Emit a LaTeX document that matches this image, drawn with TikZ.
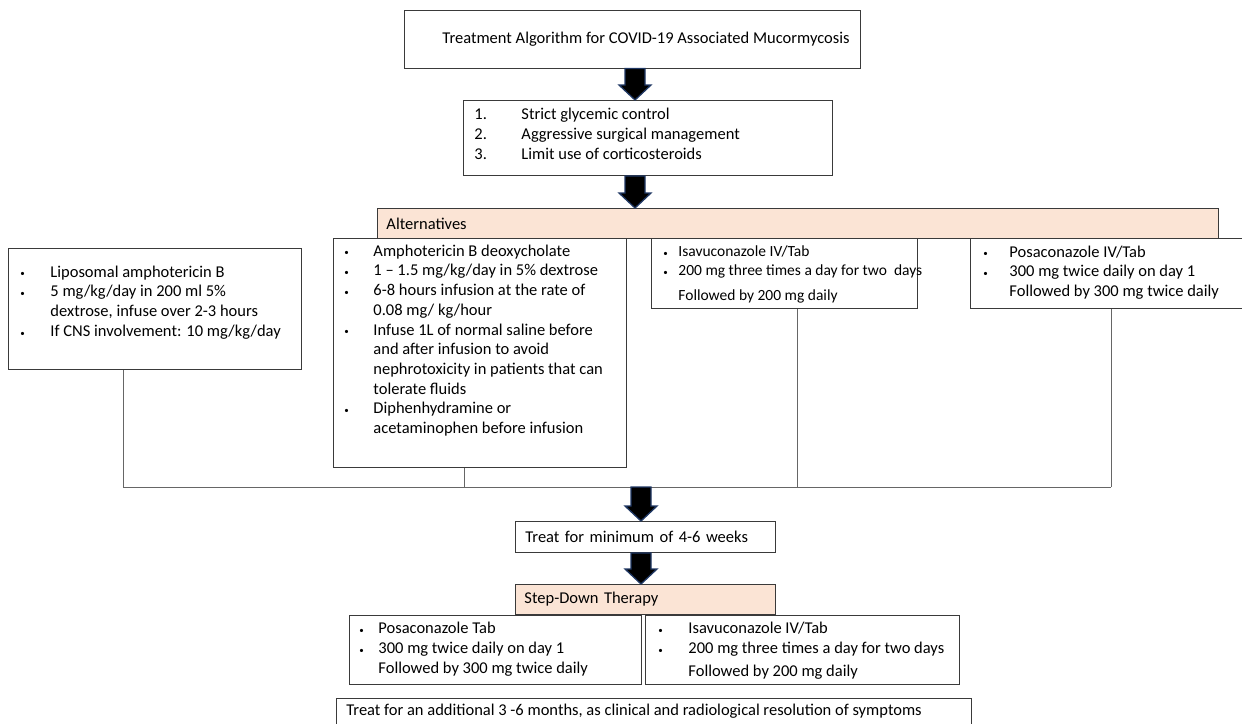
\documentclass[tikz,border=0pt]{standalone}
\usepackage{fontspec}
\setmainfont{Carlito}
\usepackage{xcolor}
\usepackage{tikz}
\usetikzlibrary{calc,positioning}

\definecolor{peach}{HTML}{FBE4D5}
\definecolor{arrowedge}{HTML}{203864}
\definecolor{boxline}{HTML}{3A3A3A}

% bullet and numbered items inside a panel
\newcommand{\bitem}[2]{\par\hangindent=#1\hangafter=1\noindent\makebox[#1][l]{\strut\raisebox{0.3pt}{\small\textbullet}}#2\par}
\newcommand{\nitem}[3]{\par\hangindent=#1\hangafter=1\noindent\makebox[#1][l]{\strut#2}#3\par}
\newcommand{\nl}{\hfil\break}
\newcommand{\nlx}[1]{\hfil\break\rule{0pt}{#1}}

% fat block arrow: x position, from anchor, to anchor
\newcommand{\fatarrow}[3]{%
  \filldraw[fatarrow] let \p1=(#2), \p2=(#3) in
    (#1pt-10pt,\y1) -- (#1pt+10pt,\y1) -- (#1pt+10pt,\y2+15pt) -- (#1pt+16pt,\y2+15pt)
    -- (#1pt,\y2) -- (#1pt-16pt,\y2+15pt) -- (#1pt-10pt,\y2+15pt) -- cycle;}

\begin{document}
\begin{tikzpicture}[
    x=1pt, y=-1pt,
    every node/.style={font=\fontsize{16.5}{19.7}\selectfont},
    panel/.style={draw=boxline, line width=0.9pt, anchor=north west, inner sep=0pt, align=left},
    headbar/.style={panel, fill=peach, inner xsep=9pt, minimum height=30pt},
    fatarrow/.style={fill=black, draw=arrowedge, line width=1.3pt, line join=miter},
    busline/.style={draw=black!60, line width=0.8pt}
]
    \useasboundingbox (0,0) rectangle (1242,723);
    \clip (0,0) rectangle (1242,723);

    % top of the algorithm
    \node [panel, minimum width=456pt, minimum height=58pt, align=center, anchor=center] (title) at (632,39)
        {\hspace*{28pt}Treatment Algorithm for COVID-19 Associated Mucormycosis};
    \node [panel, inner xsep=11pt, inner ysep=5.5pt] (steps) at (463,100)
        {\parbox[t][64pt][t]{347pt}{
            \nitem{47pt}{1.}{Strict glycemic control}
            \nitem{47pt}{2.}{Aggressive surgical management}
            \nitem{47pt}{3.}{Limit use of corticosteroids}}};
    \node [headbar, text width=823pt] (alt) at (377,208) {Alternatives};

    % alternatives
    \node [panel, inner xsep=12pt, inner ysep=15pt] (lipo) at (8,248)
        {\parbox[t][91pt][t]{269pt}{
            \bitem{30pt}{Liposomal amphotericin B}
            \bitem{30pt}{5 mg/kg/day in 200 ml 5\%\nl dextrose, infuse over 2-3 hours}
            \bitem{30pt}{If CNS involvement: 10 mg/kg/day}}};
    \node [panel, inner xsep=11pt, inner ysep=4pt] (amph) at (333,238)
        {\parbox[t][221pt][t]{271pt}{
            \bitem{29pt}{Amphotericin B deoxycholate}
            \bitem{29pt}{1 -- 1.5 mg/kg/day in 5\% dextrose}
            \bitem{29pt}{6-8 hours infusion at the rate of\nl 0.08 mg/ kg/hour}
            \bitem{29pt}{Infuse 1L of normal saline before\nl and after infusion to avoid\nl nephrotoxicity in patients that can\nl tolerate fluids}
            \bitem{29pt}{Diphenhydramine or\nl acetaminophen before infusion}}};
    \node [panel, inner xsep=12pt, inner ysep=5pt, font=\fontsize{15.5}{19}\selectfont] (isa) at (651,238)
        {\parbox[t][60pt][t]{242pt}{
            \bitem{15pt}{Isavuconazole IV/Tab}
            \bitem{15pt}{\rlap{200 mg three times a day for two~ days}\nlx{18pt}Followed by 200 mg daily}}};
    \node [panel, inner xsep=13pt, inner ysep=5pt] (posa) at (970,238)
        {\parbox[t][60pt][t]{270pt}{
            \bitem{26pt}{Posaconazole IV/Tab}
            \bitem{26pt}{300 mg twice daily on day 1\nl Followed by 300 mg twice daily}}};

    % joining the alternatives
    \coordinate (busL) at (123,487);
    \coordinate (busA) at (464,487);
    \coordinate (busM) at (641,487);
    \coordinate (busI) at (797,487);
    \coordinate (busR) at (1111,487);
    \draw [busline] (busL) -- (busR);
    \draw [busline] (busL) -- (busL |- lipo.south);
    \draw [busline] (busA) -- (busA |- amph.south);
    \draw [busline] (busI) -- (busI |- isa.south);
    \draw [busline] (busR) -- (busR |- posa.south);

    % after the alternatives
    \node [panel, minimum width=260pt, minimum height=31pt, text width=240pt, inner xsep=10pt] (weeks) at (515,521)
        {Treat for minimum of 4-6 weeks};
    \node [headbar, text width=242pt] (stepdown) at (515,584) {Step-Down Therapy};
    \node [panel, inner xsep=10pt, inner ysep=4.5pt] (posatab) at (349,615)
        {\parbox[t][60pt][t]{272pt}{
            \bitem{19pt}{Posaconazole Tab}
            \bitem{19pt}{300 mg twice daily on day 1\nl Followed by 300 mg twice daily}}};
    \node [panel, inner xsep=13pt, inner ysep=4.5pt] (isatab) at (645,615)
        {\parbox[t][60pt][t]{288pt}{
            \bitem{30pt}{Isavuconazole IV/Tab}
            \bitem{30pt}{200 mg three times a day for two days\nlx{16pt}Followed by 200 mg daily}}};
    \node [panel, inner xsep=10pt, inner ysep=3pt] (final) at (336,698)
        {\parbox[t][40pt][t]{615pt}{\strut Treat for an additional 3 -6 months, as clinical and radiological resolution of symptoms}};

    % block arrows
    \fatarrow{635}{title.south}{steps.north}
    \fatarrow{635}{steps.south}{alt.north}
    \fatarrow{641}{busM}{weeks.north}
    \fatarrow{641}{weeks.south}{stepdown.north}
\end{tikzpicture}
\end{document}
